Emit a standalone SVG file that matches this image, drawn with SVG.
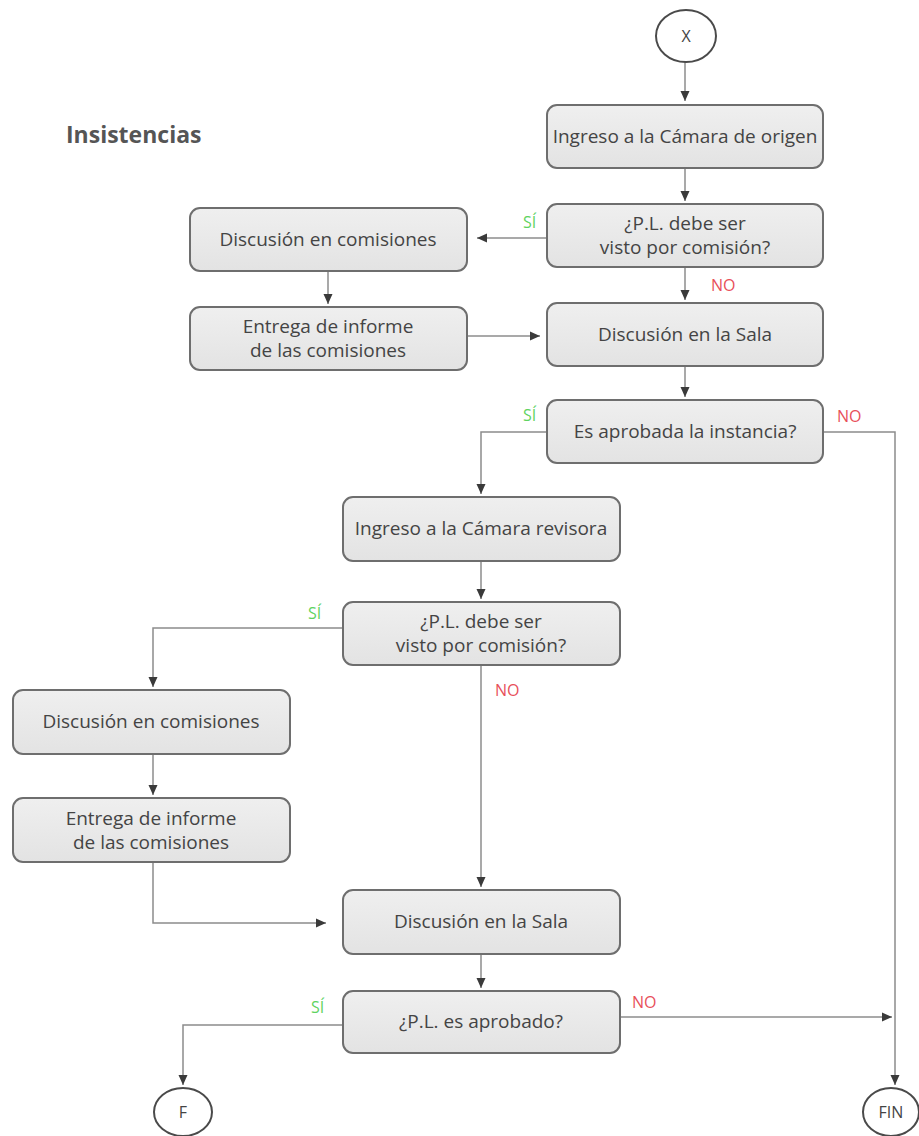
<svg xmlns="http://www.w3.org/2000/svg" width="919" height="1136" viewBox="0 0 919 1136">
<defs>
<linearGradient id="bg" x1="0" y1="0" x2="0" y2="1">
<stop offset="0" stop-color="#efefef"/>
<stop offset="1" stop-color="#e3e3e3"/>
</linearGradient>
<marker id="arr" viewBox="0 0 10 10" refX="10" refY="5" markerWidth="10" markerHeight="10" markerUnits="userSpaceOnUse" orient="auto">
<path d="M0,0.5 L10,5 L0,9.5 Z" fill="#3a3a3a"/>
</marker>
</defs>
<style>
.box{fill:url(#bg);stroke:#6e6e6e;stroke-width:2}
.term{fill:#ffffff;stroke:#4a4a4a;stroke-width:2}
.t{font-family:"Open Sans","DejaVu Sans",sans-serif;font-size:19px;fill:#444444;text-anchor:middle}
.tc{font-family:"Open Sans","DejaVu Sans",sans-serif;font-size:16px;fill:#444444;text-anchor:middle}
.c{fill:none;stroke:#8c8c8c;stroke-width:1.5;marker-end:url(#arr)}
.si{font-family:"Open Sans","DejaVu Sans",sans-serif;font-size:16px;fill:#5fd35f}
.no{font-family:"Open Sans","DejaVu Sans",sans-serif;font-size:16px;fill:#e8505a}
.title{font-family:"Open Sans","DejaVu Sans",sans-serif;font-size:23px;font-weight:bold;fill:#555555}
</style>
<rect width="919" height="1136" fill="#ffffff"/>
<text class="title" x="66" y="143">Insistencias</text>

<g id="connectors">
<path class="c" d="M685,62 V101"/>
<path class="c" d="M685,168 V201"/>
<path class="c" d="M547,238 H477"/>
<path class="c" d="M328,271 V304"/>
<path class="c" d="M467,336 H540"/>
<path class="c" d="M685,267 V300"/>
<path class="c" d="M685,366 V397"/>
<path class="c" d="M547,432 H481 V494"/>
<path class="c" d="M823,432 H895 V1085"/>
<path class="c" d="M481,561 V599"/>
<path class="c" d="M343,628 H153 V687"/>
<path class="c" d="M153,754 V795"/>
<path class="c" d="M153,862 V923 H326"/>
<path class="c" d="M481,665 V887"/>
<path class="c" d="M481,954 V988"/>
<path class="c" d="M343,1025 H183 V1085"/>
<path class="c" d="M620,1017 H892"/>
<text class="si" x="523" y="228">SÍ</text>
<text class="no" x="711" y="291">NO</text>
<text class="si" x="523" y="421">SÍ</text>
<text class="no" x="837" y="422">NO</text>
<text class="si" x="308" y="619">SÍ</text>
<text class="no" x="495" y="696">NO</text>
<text class="si" x="311" y="1013">SÍ</text>
<text class="no" x="632" y="1008">NO</text>
</g>

<g id="start"><ellipse class="term" cx="686" cy="36" rx="30" ry="26"/><text class="tc" x="686" y="42">X</text></g>
<g id="b1"><rect class="box" x="547" y="105" width="276" height="63" rx="10"/><text class="t" x="685" y="143">Ingreso a la Cámara de origen</text></g>
<g id="b2"><rect class="box" x="547" y="204" width="276" height="63" rx="10"/><text class="t" x="685" y="230">¿P.L. debe ser</text><text class="t" x="685" y="254">visto por comisión?</text></g>
<g id="l1"><rect class="box" x="190" y="208" width="277" height="63" rx="10"/><text class="t" x="328" y="246">Discusión en comisiones</text></g>
<g id="l2"><rect class="box" x="190" y="307" width="277" height="63" rx="10"/><text class="t" x="328" y="333">Entrega de informe</text><text class="t" x="328" y="357">de las comisiones</text></g>
<g id="b3"><rect class="box" x="547" y="303" width="276" height="63" rx="10"/><text class="t" x="685" y="341">Discusión en la Sala</text></g>
<g id="b4"><rect class="box" x="547" y="400" width="276" height="63" rx="10"/><text class="t" x="685" y="438">Es aprobada la instancia?</text></g>
<g id="m1"><rect class="box" x="343" y="497" width="277" height="64" rx="10"/><text class="t" x="481" y="535">Ingreso a la Cámara revisora</text></g>
<g id="m2"><rect class="box" x="343" y="602" width="277" height="63" rx="10"/><text class="t" x="481" y="628">¿P.L. debe ser</text><text class="t" x="481" y="652">visto por comisión?</text></g>
<g id="n1"><rect class="box" x="13" y="690" width="277" height="64" rx="10"/><text class="t" x="151" y="728">Discusión en comisiones</text></g>
<g id="n2"><rect class="box" x="13" y="798" width="277" height="64" rx="10"/><text class="t" x="151" y="825">Entrega de informe</text><text class="t" x="151" y="849">de las comisiones</text></g>
<g id="m3"><rect class="box" x="343" y="890" width="277" height="64" rx="10"/><text class="t" x="481" y="928">Discusión en la Sala</text></g>
<g id="m4"><rect class="box" x="343" y="991" width="277" height="62" rx="10"/><text class="t" x="481" y="1028">¿P.L. es aprobado?</text></g>
<g id="f"><ellipse class="term" cx="183" cy="1112" rx="29" ry="24"/><text class="tc" x="183" y="1118">F</text></g>
<g id="fin"><ellipse class="term" cx="891" cy="1112" rx="28" ry="24"/><text class="tc" x="891" y="1118">FIN</text></g>
</svg>
